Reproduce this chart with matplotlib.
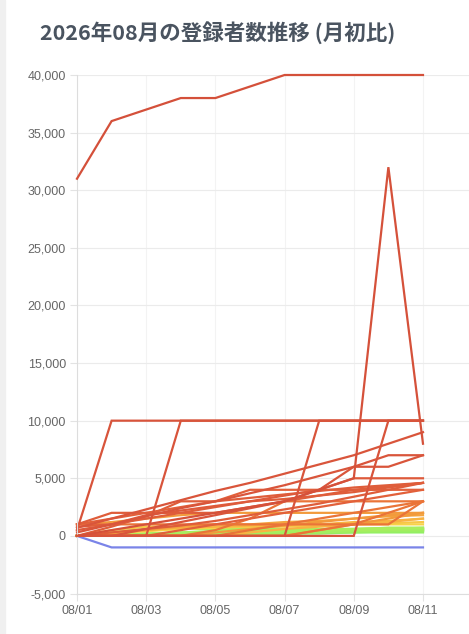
import numpy as np
import matplotlib
matplotlib.use('Agg')
import matplotlib.pyplot as plt
from matplotlib.colors import to_rgb
from matplotlib.ticker import FuncFormatter
from matplotlib.patches import Rectangle

plt.rcParams['font.family'] = ['Liberation Sans', 'DejaVu Sans']

# dates (08/01 .. 08/11)
days = ['08/01', '08/02', '08/03', '08/04', '08/05', '08/06',
        '08/07', '08/08', '08/09', '08/10', '08/11']

# growth since the first of the month, one list per channel
top_ch = [31000, 36000, 37000, 38000, 38000, 39000, 40000, 40000, 40000, 40000, 40000]
spike_ch = [0, 500, 1000, 1500, 2000, 2500, 3000, 4000, 5000, 32000, 8000]
jump_a = [500, 10000, 10000, 10000, 10000, 10000, 10000, 10000, 10000, 10000, 10000]
jump_b = [0, 0, 0, 10000, 10000, 10000, 10000, 10000, 10000, 10000, 10000]
jump_c = [0, 0, 0, 0, 0, 0, 0, 10000, 10000, 10000, 10000]
jump_d = [0, 0, 0, 0, 0, 0, 0, 0, 0, 10000, 10000]
diag_9k = [700, 1500, 2300, 3100, 3900, 4600, 5400, 6200, 7000, 8000, 9000]
diag_7k = [300, 1000, 1700, 2400, 3000, 3700, 4400, 5200, 6000, 7000, 7000]
step_7k = [0, 0, 600, 1200, 1800, 2400, 3000, 4000, 6000, 6000, 7000]
flat_5k = [500, 1000, 1800, 2200, 2600, 3000, 3500, 4000, 5000, 5000, 5000]
mid_a = [0, 300, 600, 900, 1300, 1800, 2300, 2800, 3400, 4000, 4600]
mid_b = [800, 1000, 1500, 2000, 2500, 3000, 3200, 3500, 3800, 4200, 4600]
mid_c = [1000, 2000, 2000, 2000, 2000, 2500, 3000, 3500, 4000, 4300, 4600]
mid_d = [1000, 1500, 2000, 2500, 3000, 4000, 4000, 4000, 4000, 4000, 4000]
mid_e = [0, 0, 0, 500, 1000, 1500, 2000, 2500, 3000, 3500, 4000]
mid_f = [0, 800, 1700, 3000, 3000, 3300, 3600, 3900, 4200, 4400, 4600]
mid_g = [0, 0, 0, 0, 500, 1500, 3000, 3000, 3000, 3000, 3000]
mid_h = [0, 0, 0, 0, 0, 500, 1000, 1500, 2000, 2500, 3000]
mid_i = [1000, 1000, 1000, 1000, 1000, 1000, 1000, 1000, 1000, 1000, 3000]
mid_j = [0, 0, 0, 0, 0, 0, 0, 500, 1000, 2000, 3000]
mid_k = [1000, 1200, 1500, 1800, 2000, 2000, 2000, 2000, 2000, 2000, 2000]
org_a = [0, 0, 0, 0, 300, 600, 900, 1200, 1500, 1800, 2000]
org_b = [0, 0, 0, 0, 0, 0, 0, 500, 1000, 1500, 2000]
org_c = [0, 200, 500, 800, 1000, 1000, 1200, 1300, 1500, 1700, 1800]
yel_a = [0, 300, 500, 700, 800, 900, 1000, 1000, 1200, 1300, 1500]
yel_b = [0, 500, 800, 800, 800, 800, 800, 900, 1000, 1100, 1200]
yel_c = [0, 200, 400, 600, 700, 800, 900, 1000, 1000, 1000, 1000]
yel_d = [0, 0, 0, 0, 0, 300, 600, 800, 1000, 1200, 1500]
grn_a = [0, 100, 200, 300, 400, 500, 500, 600, 600, 700, 700]
grn_b = [0, 0, 100, 200, 300, 300, 400, 400, 500, 500, 600]
grn_c = [0, 50, 100, 150, 200, 250, 300, 350, 400, 450, 500]
grn_d = [0, 0, 0, 100, 200, 300, 400, 500, 500, 600, 700]
grn_e = [0, 0, 200, 200, 300, 300, 300, 400, 400, 400, 500]
grn_f = [0, 100, 100, 200, 200, 200, 300, 300, 300, 400, 400]
grn_g = [0, 0, 0, 0, 0, 100, 200, 300, 400, 500, 600]
grn_h = [0, 0, 0, 0, 100, 100, 200, 200, 300, 300, 300]
grn_i = [0, 300, 600, 600, 600, 600, 600, 600, 600, 700, 700]
grn_j = [0, 0, 0, 300, 400, 400, 500, 500, 600, 600, 600]
grn_k = [0, 100, 200, 200, 300, 400, 400, 500, 500, 500, 500]
grn_l = [0, 0, 100, 100, 200, 200, 200, 300, 400, 400, 400]
neg_ch = [0, -1000, -1000, -1000, -1000, -1000, -1000, -1000, -1000, -1000, -1000]

channels = [top_ch, spike_ch, jump_a, jump_b, jump_c, jump_d, diag_9k, diag_7k,
            step_7k, flat_5k, mid_a, mid_b, mid_c, mid_d, mid_e, mid_f, mid_g,
            mid_h, mid_i, mid_j, mid_k, org_a, org_b, org_c, yel_a, yel_b,
            yel_c, yel_d, grn_a, grn_b, grn_c, grn_d, grn_e, grn_f, grn_g,
            grn_h, grn_i, grn_j, grn_k, grn_l, neg_ch]

# colour depends on how far the channel got
stops = [(0, '#7ef06a'), (700, '#a8ee5e'), (1000, '#f7d448'), (1500, '#f8b342'),
         (2000, '#f29a3c'), (3000, '#ea7438'), (4000, '#e2603a'), (6000, '#d9553b'),
         (40000, '#d4503a')]


def line_colour(vals):
    m = max(vals)
    if min(vals) < 0:
        return '#7a84e8'
    for (v0, c0), (v1, c1) in zip(stops[:-1], stops[1:]):
        if m <= v1:
            t = (m - v0) / (v1 - v0)
            a, b = np.array(to_rgb(c0)), np.array(to_rgb(c1))
            return tuple(a + (b - a) * t)
    return stops[-1][1]


fig = plt.figure(figsize=(4.69, 6.34), dpi=100)
fig.patches.append(Rectangle((0, 0), 5 / 469, 1, transform=fig.transFigure,
                             color='#f0f0f0', zorder=0))
ax = fig.add_axes([77 / 469, (634 - 593.5) / 634, 1 - 77 / 469, (593.5 - 75) / 634])

x = np.arange(len(days))
for vals in sorted(channels, key=max):
    ax.plot(x, vals, color=line_colour(vals), lw=1.6, clip_on=False,
            solid_joinstyle='miter', zorder=2 + max(vals) / 50000)

ax.set_xlim(0, 11.33)
ax.set_ylim(-5000, 40000)
ax.set_yticks(np.arange(-5000, 40001, 5000))
ax.yaxis.set_major_formatter(FuncFormatter(lambda v, p: f'{int(v):,}'))
ax.set_xticks(x[::2])
ax.set_xticklabels(days[::2])

ax.grid(axis='y', color='#ebebeb', lw=0.8)
ax.grid(axis='x', color='#f3f3f3', lw=0.8)
ax.set_axisbelow(True)
for s in ['top', 'right']:
    ax.spines[s].set_visible(False)
for s in ['left', 'bottom']:
    ax.spines[s].set_color('#dddddd')
    ax.spines[s].set_linewidth(0.8)
ax.tick_params(colors='#e3e3e3', labelcolor='#666666', labelsize=9,
               length=5, width=0.8, pad=3)

fig.text(40 / 469, 1 - 33 / 634, '2026年08月の登録者数推移 (月初比)',
         family=['Noto Sans CJK JP', 'DejaVu Sans'], weight='bold',
         fontsize=15.5, color='#4a5460', va='center', ha='left')

fig.savefig('out.png', dpi=100)
